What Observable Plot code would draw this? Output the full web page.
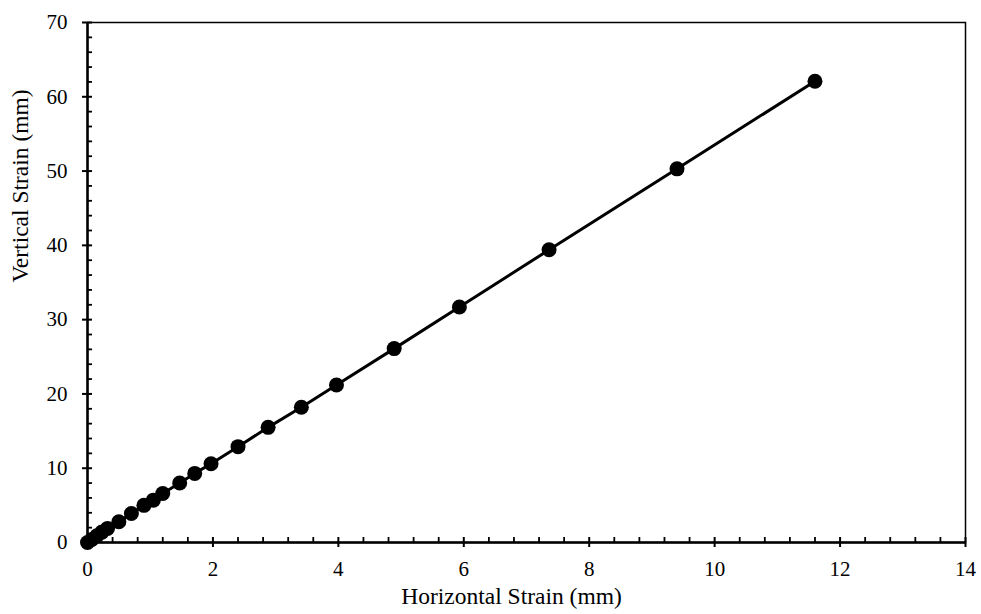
<!DOCTYPE html>
<html>
<head>
<meta charset="utf-8">
<script src="https://cdn.jsdelivr.net/npm/d3@7"></script>
<script src="https://cdn.jsdelivr.net/npm/@observablehq/plot@0.6"></script>
<style>
  html, body { margin: 0; padding: 0; background: #fff; }
  #chart svg { display: block; }
</style>
</head>
<body>
<div id="chart"></div>
<script>
const horizontal = [0, 0.07, 0.15, 0.23, 0.32, 0.5, 0.7, 0.9, 1.05, 1.2, 1.47, 1.71, 1.97, 2.4, 2.88, 3.41, 3.97, 4.89, 5.93, 7.36, 9.4, 11.6];
const vertical   = [0, 0.4, 0.9, 1.4, 1.9, 2.8, 3.9, 5.0, 5.7, 6.6, 8.0, 9.3, 10.6, 12.9, 15.5, 18.2, 21.2, 26.1, 31.7, 39.4, 50.3, 62.1];
const xMajor = [0, 2, 4, 6, 8, 10, 12, 14];
const yMajor = [0, 10, 20, 30, 40, 50, 60, 70];
const xMinor = d3.range(0, 14.001, 0.4).map(v => +v.toFixed(1)).filter(v => !xMajor.includes(v));
const yMinor = d3.range(0, 70.001, 2).filter(v => !yMajor.includes(v));
const xTitle = ["Horizontal Strain (mm)"];
const yTitle = ["Vertical Strain (mm)"];

const data = horizontal.map((h, i) => ({h, v: vertical[i]}));
const font = "Liberation Serif, Times New Roman, serif";

const chart = Plot.plot({
  width: 981,
  height: 614,
  marginLeft: 87,
  marginRight: 16,
  marginTop: 22,
  marginBottom: 72,
  style: {fontFamily: font, fontSize: "21px", color: "#000", background: "#fff"},
  x: {domain: [0, 14], label: null},
  y: {domain: [0, 70], label: null},
  marks: [
    Plot.frame({stroke: "#000", strokeWidth: 1.5}),
    // labels
    Plot.axisX({ticks: xMajor, tickSize: 0, tickPadding: 19, fontSize: 21, label: null}),
    Plot.axisY({ticks: yMajor, tickSize: 0, tickPadding: 20, fontSize: 21, label: null}),
    // major ticks crossing
    Plot.axisX({ticks: xMajor, tickSize: 10, dy: -5, fill: "none", strokeWidth: 2, label: null}),
    Plot.axisY({ticks: yMajor, tickSize: 10, dx: 5, fill: "none", strokeWidth: 2, label: null}),
    // minor ticks inside
    Plot.axisX({ticks: xMinor, tickSize: 5, dy: -5, fill: "none", strokeWidth: 1.8, label: null}),
    Plot.axisY({ticks: yMinor, tickSize: 5, dx: 5, fill: "none", strokeWidth: 1.8, label: null}),
    Plot.ruleX([0], {strokeWidth: 2.5}),
    Plot.ruleY([0], {strokeWidth: 2.5}),
    Plot.line(data, {x: "h", y: "v", stroke: "#000", strokeWidth: 3}),
    Plot.dot(data, {x: "h", y: "v", r: 7.5, fill: "#000", stroke: "none"}),
    Plot.text(xTitle, {frameAnchor: "bottom", dx: -15, dy: 61, fontSize: 23.5, fill: "#000"}),
    Plot.text(yTitle, {frameAnchor: "left", dx: -67, rotate: -90, fontSize: 23.5, fill: "#000"})
  ]
});
document.getElementById("chart").appendChild(chart);
</script>
</body>
</html>
